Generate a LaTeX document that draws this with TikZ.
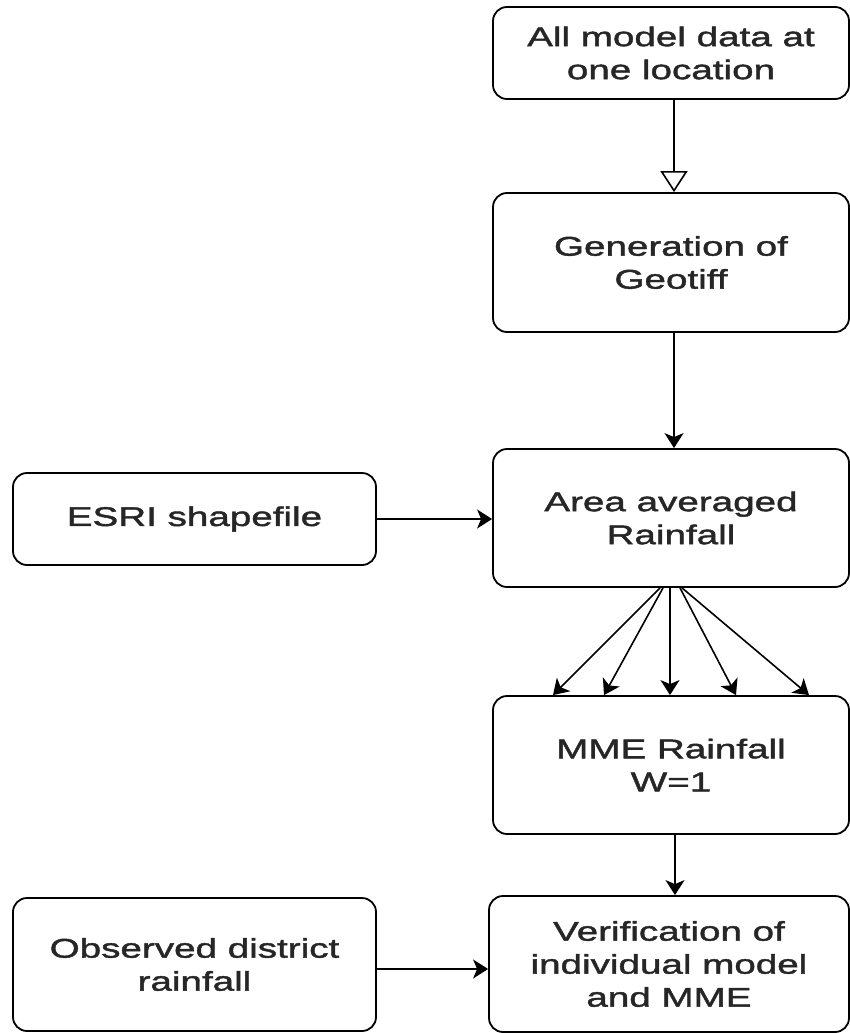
\documentclass[tikz,border=0pt]{standalone}
\usepackage{fontspec}
\setmainfont{Liberation Sans}[FakeStretch=1.43,FakeBold=1.6]
\usetikzlibrary{arrows.meta,calc}
\begin{document}
\begin{tikzpicture}[x=1pt,y=-1pt,
  box/.style={draw=black, line width=1.8pt, rounded corners=14pt, align=center,
    inner sep=0pt, text=black!85, font=\fontsize{27}{33}\selectfont},
  arr/.style={draw=black, line width=1.6pt, -{Stealth[length=15pt,width=19pt,inset=4pt]}},
  openarr/.style={draw=black, line width=1.6pt, -{Triangle[open,length=21pt,width=27pt]}}
]
\useasboundingbox (0,0) rectangle (850,1033);
\fill[white] (0,0) rectangle (850,1033);

\node[box, minimum width=356pt, minimum height=92pt] (b1) at (671,53) {All model data at\\one location};
\node[box, minimum width=356pt, minimum height=139pt] (b2) at (671,262.5) {Generation of\\Geotiff};
\node[box, minimum width=356pt, minimum height=138pt] (b3) at (671,518) {Area averaged\\Rainfall};
\node[box, minimum width=363pt, minimum height=92pt] (esri) at (194.5,519) {ESRI shapefile};
\node[box, minimum width=356pt, minimum height=138pt] (mme) at (671,765) {MME Rainfall\\W=1};
\node[box, minimum width=363pt, minimum height=133pt] (obs) at (194.5,964.5) {Observed district\\rainfall};
\node[box, minimum width=360pt, minimum height=136pt] (ver) at (669,964) {Verification of\\individual model\\and MME};

\draw[openarr] ($(b1.south)+(3,0)$) -- ($(b2.north)+(3,0)$);
\draw[arr] ($(b2.south)+(3,0)$) -- ($(b3.north)+(3,0)$);
\draw[arr] (esri.east) -- (esri.east -| b3.west);
\foreach \s/\t in {-11/-118, -8/-67, -1/-1, 9/65, 11/138}
  \draw[arr] ($(b3.south)+(\s,0)$) -- ($(mme.north)+(\t,0)$);
\draw[arr] ($(mme.south)+(4,0)$) -- ($(ver.north)+(6,0)$);
\draw[arr] ($(obs.east)+(0,4.5)$) -- ($(obs.east -| ver.west)+(0,4.5)$);
\end{tikzpicture}
\end{document}
